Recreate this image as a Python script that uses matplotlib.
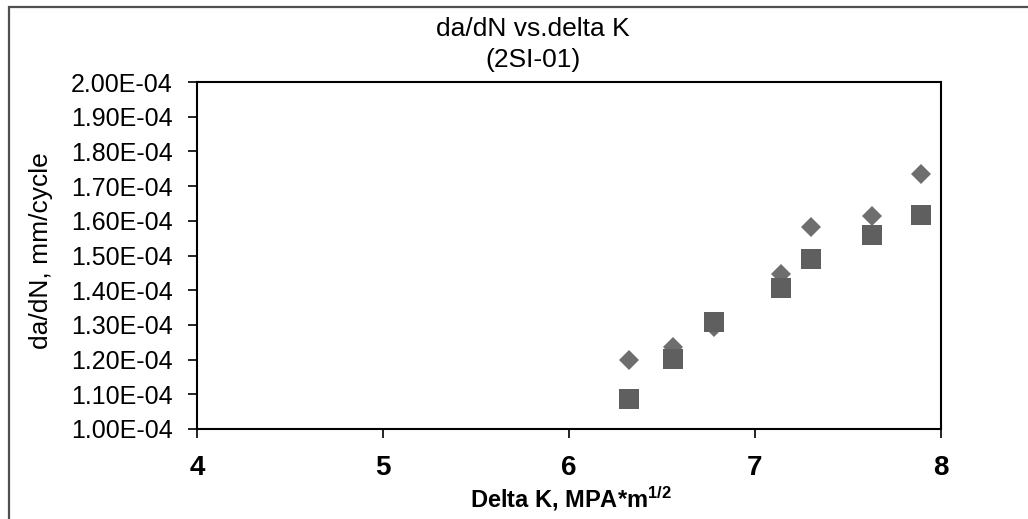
import matplotlib
matplotlib.use('Agg')
import matplotlib.pyplot as plt
from matplotlib.patches import Rectangle
from matplotlib.ticker import FuncFormatter

# data
delta_k = [6.32, 6.56, 6.78, 7.14, 7.30, 7.63, 7.89]
dadn_diamond = [1.199e-4, 1.235e-4, 1.295e-4, 1.447e-4, 1.581e-4, 1.615e-4, 1.735e-4]
dadn_square = [1.087e-4, 1.203e-4, 1.308e-4, 1.406e-4, 1.489e-4, 1.558e-4, 1.618e-4]
x_ticks = [4, 5, 6, 7, 8]
y_ticks = [1.0e-4, 1.1e-4, 1.2e-4, 1.3e-4, 1.4e-4, 1.5e-4, 1.6e-4, 1.7e-4, 1.8e-4, 1.9e-4, 2.0e-4]

plt.rcParams['font.family'] = ['Liberation Sans', 'DejaVu Sans']
plt.rcParams['mathtext.fontset'] = 'custom'
plt.rcParams['mathtext.rm'] = 'Liberation Sans'
plt.rcParams['mathtext.bf'] = 'Liberation Sans:bold'

fig = plt.figure(figsize=(10.28, 5.19), dpi=100)
ax = fig.add_axes([197 / 1028, 1 - 429 / 519, (941 - 197) / 1028, (429 - 82) / 519])

ax.plot(delta_k, dadn_diamond, linestyle='none', marker='D', markersize=10.2,
        markeredgewidth=0, color='#6e6e6e', zorder=3)
ax.plot(delta_k, dadn_square, linestyle='none', marker='s', markersize=15,
        markeredgewidth=0, color='#5f5f5f', zorder=4)

ax.set_xlim(4, 8)
ax.set_ylim(1.0e-4, 2.0e-4)
ax.set_xticks(x_ticks)
ax.set_yticks(y_ticks)
ax.yaxis.set_major_formatter(FuncFormatter(lambda v, p: '%.2fE-04' % (v * 1e4)))

for s in ax.spines.values():
    s.set_linewidth(1.5)
    s.set_color('black')
ax.tick_params(axis='both', direction='out', length=6.5, width=1.2, color='black')
ax.tick_params(axis='y', labelsize=18, pad=11)
ax.tick_params(axis='x', labelsize=20, pad=12)
for lb in ax.get_xticklabels():
    lb.set_fontweight('bold')

# titles and axis labels
fig.text(533 / 1028, 1 - 29 / 519, 'da/dN vs.delta K', ha='center', va='center', fontsize=19)
fig.text(533 / 1028, 1 - 60 / 519, '(2SI-01)', ha='center', va='center', fontsize=19)
fig.text(41 / 1028, 1 - 251 / 519, 'da/dN, mm/cycle', rotation=90,
         ha='center', va='center', fontsize=19)
fig.text(571 / 1028, 1 - 499 / 519, r'Delta K, MPA*m$\mathbf{^{1/2}}$',
         ha='center', va='center', fontsize=17, fontweight='bold')

# outer frame (right and bottom edges fall outside the picture)
fig.patches.append(Rectangle((9 / 1028, -0.2), 1.2, 0.2 + (1 - 7 / 519),
                             transform=fig.transFigure, fill=False,
                             edgecolor='#505050', linewidth=1.6, clip_on=False))

fig.savefig('out.png', dpi=100)
